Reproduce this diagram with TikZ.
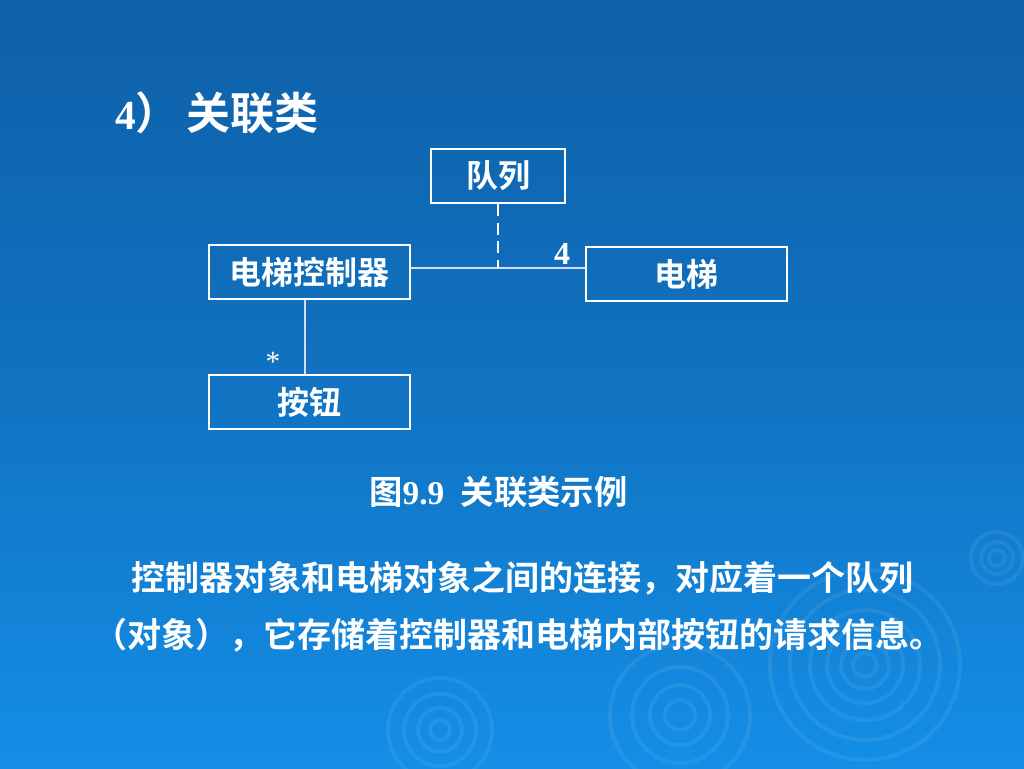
\documentclass[tikz,border=0pt]{standalone}
\usepackage{fontspec}
\setmainfont{Liberation Serif}
\newfontfamily\cjk[BoldFont={Noto Sans CJK SC Bold}]{Noto Sans CJK SC}
\begin{document}
\begin{tikzpicture}[x=0.75pt,y=-0.75pt,
  cls/.style={draw=white,line width=1.5pt,minimum width=150.75pt,minimum height=40.5pt,inner sep=0pt,text=white,font=\cjk\bfseries\fontsize{24}{26}\selectfont},
  link/.style={draw=white!85!blue,line width=0.9pt},
  txt/.style={text=white,inner sep=0pt},
  ripple/.style={draw=white,opacity=0.07,line width=3pt}]
\definecolor{bgtop}{RGB}{14,96,168}
\definecolor{bgbot}{RGB}{20,142,230}
\shade[top color=bgtop,bottom color=bgbot,middle color=bgtop!60!bgbot] (0,0) rectangle (1024,768);
\useasboundingbox (0,0) rectangle (1024,768);
% ripple decoration
\foreach \r in {12,24,38,55,75,95} \draw[ripple] (865,665) circle (\r);
\foreach \r in {15,30,48,70} \draw[ripple] (680,715) circle (\r);
\foreach \r in {8,16,26} \draw[ripple] (997,558) circle (\r);
\foreach \r in {10,22,36,52} \draw[ripple] (440,730) circle (\r);
% title
\node[txt,anchor=west] (title) at (115,113) {\fontsize{31}{36}\selectfont\bfseries 4\cjk\fontsize{33}{36}\selectfont）\hspace{5pt}关联类};
% classes
\node[cls,minimum width=100.5pt] (queue) at (498,176) {队列};
\node[cls] (ctrl) at (309.5,272) {电梯控制器};
\node[cls] (elev) at (686,274) {电梯};
\node[cls] (btn) at (309.5,402) {按钮};
% connectors
\coordinate (mid) at (498,268);
\draw[link] (ctrl.east |- mid) -- (elev.west |- mid);
\draw[draw=white,line width=2.2pt,dash pattern=on 9pt off 5pt] (queue.south) -- (mid);
\draw[link] (ctrl.south -| 305,0) -- (btn.north -| 305,0);
\node[txt,font=\bfseries\fontsize{24}{26}\selectfont] (mult4) at (562,254) {4};
\node[txt,font=\fontsize{22}{24}\selectfont] (mstar) at (273,362) {*};
% caption
\node[txt,anchor=west] (cap) at (369,492) {\cjk\bfseries\fontsize{25}{28}\selectfont 图\rmfamily\bfseries 9.9\ \ \cjk\bfseries 关联类示例};
% paragraph
\node[txt,anchor=west] (p1) at (131,578) {\cjk\bfseries\fontsize{25.5}{30}\selectfont 控制器对象和电梯对象之间的连接，对应着一个队列};
\node[txt,anchor=west] (p2) at (93,635) {\cjk\bfseries\fontsize{25.5}{30}\selectfont （对象），它存储着控制器和电梯内部按钮的请求信息。};
\end{tikzpicture}
\end{document}
